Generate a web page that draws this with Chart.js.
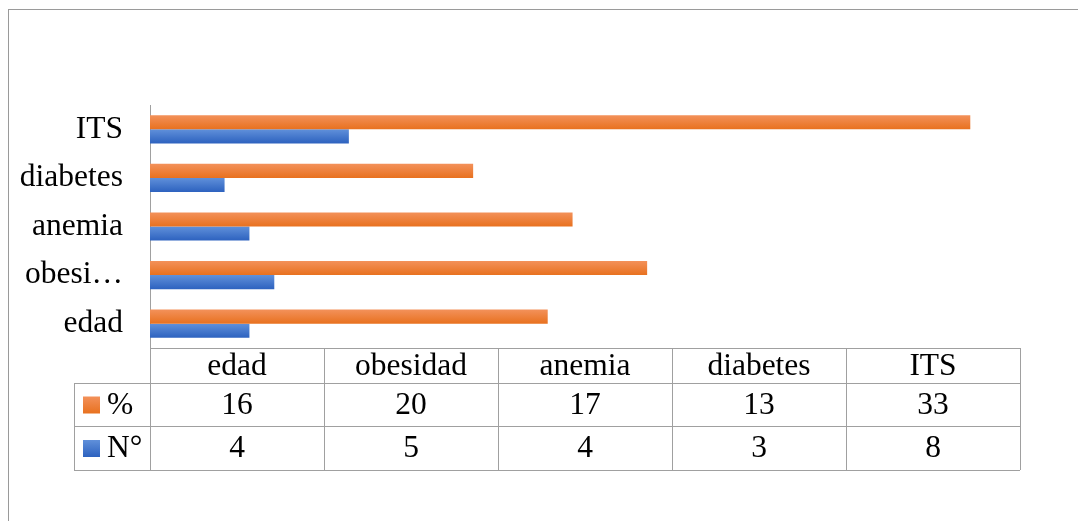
<!DOCTYPE html>
<html>
<head>
<meta charset="utf-8">
<script src="https://cdn.jsdelivr.net/npm/chart.js@4/dist/chart.umd.min.js"></script>
<style>
  html, body { margin: 0; padding: 0; background: #fff; }
  #caja { position: relative; width: 1078px; height: 521px; }
  #marco { position: absolute; left: 8px; top: 9px; right: -2px; bottom: -2px;
           border-top: 1px solid #9a9a9a; border-left: 1px solid #9a9a9a; pointer-events: none; }
</style>
</head>
<body>
<div id="caja">
  <canvas id="myChart" width="1078" height="521"></canvas>
  <div id="marco"></div>
</div>
<script>
// datos del grafico
const categorias = ['edad', 'obesidad', 'anemia', 'diabetes', 'ITS'];
const etiquetasEje = ['edad', 'obesi…', 'anemia', 'diabetes', 'ITS'];
const nombresSeries = ['%', 'N°'];
const porcentajes = [16, 20, 17, 13, 33];
const numeros = [4, 5, 4, 3, 8];

const colorNaranja = '#ed7d31';
const colorAzul = '#4472c4';
const degradados = [['#f3915a', '#e8711f'], ['#6090da', '#2d62bf']];
const colorLinea = '#a0a0a0';
const fuente = "'Liberation Serif', 'Times New Roman', serif";
const tamFuente = 31.5;

// degradado vertical en cada barra, como en Excel
const degradadoBarras = {
  id: 'degradadoBarras',
  beforeDatasetsDraw(chart) {
    const ctx = chart.ctx;
    chart.data.datasets.forEach((ds, i) => {
      chart.getDatasetMeta(i).data.forEach(el => {
        const arriba = el.y - el.height / 2;
        const g = ctx.createLinearGradient(0, arriba, 0, arriba + el.height);
        g.addColorStop(0, degradados[i][0]);
        g.addColorStop(1, degradados[i][1]);
        el.options.backgroundColor = g;
      });
    });
  }
};

// tabla de datos debajo del grafico
const tablaDatos = {
  id: 'tablaDatos',
  afterDraw(chart) {
    const ctx = chart.ctx;
    const area = chart.chartArea;
    const izq = area.left, der = area.right;
    const ancho = (der - izq) / categorias.length;
    const filas = [area.bottom, area.bottom + 35, area.bottom + 78, area.bottom + 122];
    const izqLeyenda = izq - 76;
    const valores = [porcentajes, numeros];
    const colores = [colorNaranja, colorAzul];

    ctx.save();
    ctx.strokeStyle = colorLinea;
    ctx.lineWidth = 1;
    ctx.beginPath();
    // lineas horizontales
    ctx.moveTo(izq, filas[0] + 0.5); ctx.lineTo(der, filas[0] + 0.5);
    for (let f = 1; f < filas.length; f++) {
      ctx.moveTo(izqLeyenda, filas[f] + 0.5); ctx.lineTo(der, filas[f] + 0.5);
    }
    // lineas verticales
    for (let c = 0; c <= categorias.length; c++) {
      const x = Math.round(izq + c * ancho) + 0.5;
      ctx.moveTo(x, filas[0]); ctx.lineTo(x, filas[3]);
    }
    ctx.moveTo(izqLeyenda + 0.5, filas[1]); ctx.lineTo(izqLeyenda + 0.5, filas[3]);
    ctx.stroke();

    ctx.fillStyle = '#000';
    ctx.font = tamFuente + 'px ' + fuente;
    ctx.textAlign = 'center';
    ctx.textBaseline = 'middle';
    categorias.forEach((cat, i) => {
      const cx = izq + (i + 0.5) * ancho;
      ctx.fillText(cat, cx, (filas[0] + filas[1]) / 2 + 1);
      valores.forEach((serie, s) => {
        ctx.fillText(String(serie[i]), cx, (filas[s + 1] + filas[s + 2]) / 2 + 1);
      });
    });

    // leyenda en la tabla
    nombresSeries.forEach((nombre, s) => {
      const cy = (filas[s + 1] + filas[s + 2]) / 2;
      const g = ctx.createLinearGradient(0, cy - 8, 0, cy + 9);
      g.addColorStop(0, degradados[s][0]);
      g.addColorStop(1, degradados[s][1]);
      ctx.fillStyle = g;
      ctx.fillRect(izqLeyenda + 9, cy - 8, 17, 17);
      ctx.fillStyle = '#000';
      ctx.textAlign = 'left';
      ctx.fillText(nombre, izqLeyenda + 33, cy + 1);
    });
    ctx.restore();
  }
};

new Chart(document.getElementById('myChart').getContext('2d'), {
  type: 'bar',
  data: {
    labels: etiquetasEje,
    datasets: [
      { label: nombresSeries[0], data: porcentajes, backgroundColor: () => colorNaranja },
      { label: nombresSeries[1], data: numeros, backgroundColor: () => colorAzul }
    ]
  },
  options: {
    indexAxis: 'y',
    responsive: false,
    animation: false,
    datasets: { bar: { categoryPercentage: 0.58, barPercentage: 1 } },
    layout: { padding: { top: 105, bottom: 173, right: 58, left: 0 } },
    plugins: { legend: { display: false }, tooltip: { enabled: false } },
    scales: {
      x: { display: false, min: 0, max: 35 },
      y: {
        reverse: true,
        grid: { display: false },
        border: { display: true, color: colorLinea, width: 1 },
        ticks: { color: '#000', padding: 19, font: { family: fuente, size: tamFuente } },
        afterFit(scale) { scale.width = 150; }
      }
    }
  },
  plugins: [degradadoBarras, tablaDatos]
});
</script>
</body>
</html>
